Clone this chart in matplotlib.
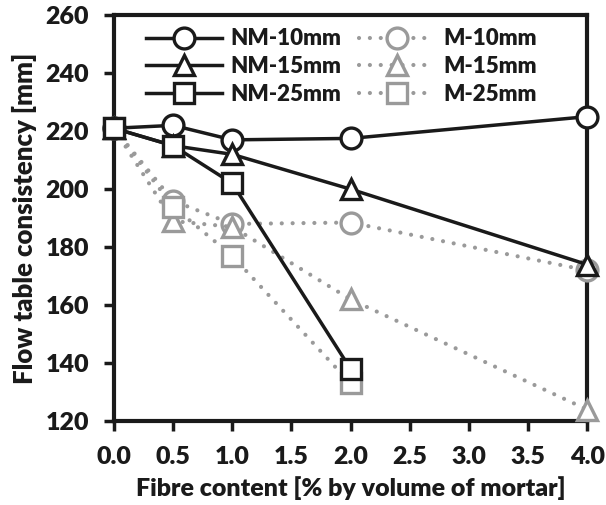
import matplotlib.pyplot as plt

plt.rcParams['font.family'] = ['Lato', 'DejaVu Sans']
plt.rcParams['font.weight'] = 'heavy'
plt.rcParams['axes.labelweight'] = 'heavy'

fibre = [0.0, 0.5, 1.0, 2.0, 4.0]
nm_10 = [221, 222, 217, 217.5, 225]
nm_15 = [221, 215, 212, 200, 174]
nm_25 = [221, 215, 202, 138]
m_10 = [221, 196, 188, 188.5, 172]
m_15 = [221, 189, 187, 162, 124]
m_25 = [221, 194, 177, 133]

fig = plt.figure(figsize=(6.06, 5.05), dpi=100)
ax = fig.add_axes([0.188, 0.166, 0.781, 0.804])

black = '#1a1a1a'
grey = '#9a9a9a'
ms = 15
kw_nm = dict(color=black, lw=2.5, mfc='white', mec=black, mew=2.4, ms=ms, clip_on=False)
kw_m = dict(color=grey, lw=3, ls=(0, (0.01, 2.6)), dash_capstyle='round',
            mfc='white', mec=grey, mew=2.4, ms=ms, clip_on=False)

ax.plot(fibre, m_10, marker='o', label='M-10mm', zorder=3, **kw_m)
ax.plot(fibre, m_15, marker='^', label='M-15mm', zorder=3, **kw_m)
ax.plot(fibre[:4], m_25, marker='s', label='M-25mm', zorder=3, **kw_m)
ax.plot(fibre, nm_10, marker='o', label='NM-10mm', zorder=4, **kw_nm)
ax.plot(fibre, nm_15, marker='^', label='NM-15mm', zorder=4, **kw_nm)
ax.plot(fibre[:4], nm_25, marker='s', label='NM-25mm', zorder=4, **kw_nm)

ax.set_xlim(0, 4)
ax.set_ylim(120, 260)
ax.set_xticks([0, 0.5, 1, 1.5, 2, 2.5, 3, 3.5, 4])
ax.set_xticklabels(['0.0', '0.5', '1.0', '1.5', '2.0', '2.5', '3.0', '3.5', '4.0'])
ax.set_yticks(range(120, 261, 20))
ax.tick_params(labelsize=18, width=2.5, length=7, color=black, labelcolor=black)
ax.tick_params(axis='x', pad=11)
ax.tick_params(axis='y', pad=11)
for s in ax.spines.values():
    s.set_linewidth(3)
    s.set_color(black)
    s.set_zorder(2)

ax.set_xlabel('Fibre content [% by volume of mortar]', fontsize=18,
              color=black, labelpad=6)
ax.set_ylabel('Flow table consistency [mm]', fontsize=18.5,
              color=black, labelpad=6)

h, l = ax.get_legend_handles_labels()
order = [3, 4, 5, 0, 1, 2]
leg = ax.legend([h[i] for i in order], [l[i] for i in order], ncol=2, frameon=False,
                loc='upper left', bbox_to_anchor=(0.04, 1.0), fontsize=16,
                handlelength=3.4, columnspacing=0.8, handletextpad=0.4,
                labelspacing=0.3, borderaxespad=0.2)
for t in leg.get_texts():
    t.set_color(black)

fig.savefig('out.png', dpi=100)
